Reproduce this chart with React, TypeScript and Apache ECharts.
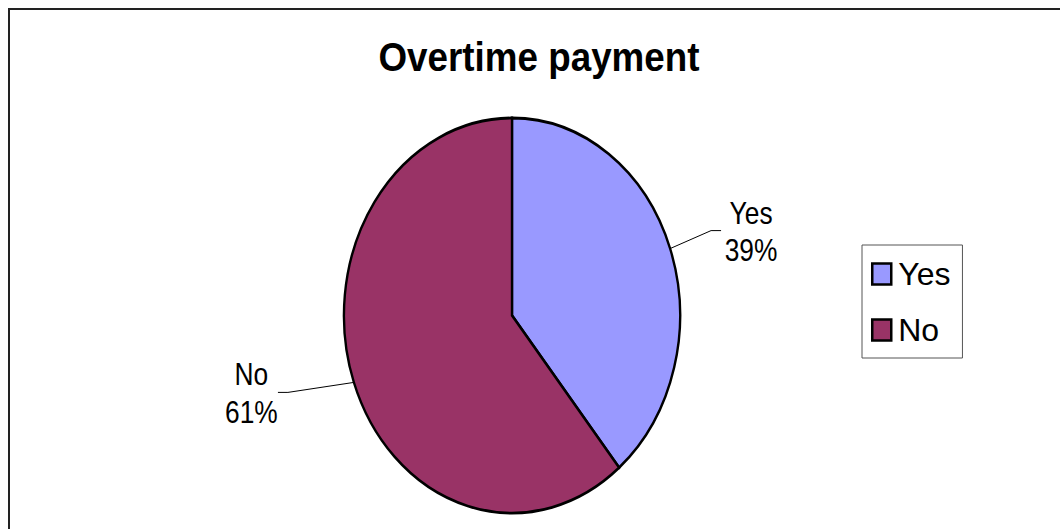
import React, { useEffect, useRef } from "react";
import * as echarts from "echarts";

const TITLE = "Overtime payment";
const categories = ["Yes", "No"];
const values = [39, 61];
const colors = ["#9999FF", "#993366"];

// layout (styling only)
const CX = 512;
const CY = 315.5;
const RX = 168;
const RY = 197.5;
const LEADER = [
  { dx: 41, dy: -18, hx: 10, tx: 40 },
  { dx: -66, dy: 10, hx: -10, tx: -36.5 },
];
const FONT = '"Liberation Sans", Arial, Helvetica, sans-serif';

export default function App() {
  const ref = useRef<HTMLDivElement>(null);

  useEffect(() => {
    document.body.style.margin = "0";
    if (!ref.current) return;
    const chart = echarts.init(ref.current, undefined, { renderer: "svg" });
    const total = values.reduce((a, b) => a + b, 0);
    let acc = 0;
    const series = categories.map((name, i) => {
      const start = acc;
      acc += values[i];
      return {
        type: "custom",
        name,
        coordinateSystem: "none",
        itemStyle: { color: colors[i] },
        data: [[values[i], start, total]],
        renderItem: (params: any, api: any) => {
          const v = api.value(0);
          const s = api.value(1);
          const t = api.value(2);
          const idx = params.seriesIndex;
          const a0 = (s / t) * Math.PI * 2 - Math.PI / 2;
          const a1 = ((s + v) / t) * Math.PI * 2 - Math.PI / 2;
          const mid = (a0 + a1) / 2;
          const ex = CX + RX * Math.cos(mid);
          const ey = CY + RY * Math.sin(mid);
          const L = LEADER[idx];
          const bx = ex + L.dx;
          const by = ey + L.dy;
          const hx = bx + L.hx;
          const pct = Math.round((v / t) * 100) + "%";
          return {
            type: "group",
            children: [
              {
                type: "sector",
                x: CX,
                y: CY,
                scaleX: RX / RY,
                shape: { cx: 0, cy: 0, r0: 0, r: RY, startAngle: a0, endAngle: a1, clockwise: true },
                style: { fill: colors[idx], stroke: "#000", lineWidth: 2.8, strokeNoScale: true },
              },
              {
                type: "polyline",
                shape: { points: [[ex, ey], [bx, by], [hx, by]] },
                style: { stroke: "#000", lineWidth: 1, fill: null },
              },
              {
                type: "text",
                x: bx + L.tx,
                y: by + 1,
                scaleX: 0.85,
                style: {
                  text: categories[idx] + "\n" + pct,
                  x: 0,
                  y: 0,
                  align: "center",
                  verticalAlign: "middle",
                  fontSize: 31,
                  fontFamily: FONT,
                  lineHeight: 37.5,
                  fill: "#000",
                },
              },
            ],
          };
        },
      };
    });

    chart.setOption({
      animation: false,
      backgroundColor: "#ffffff",
      graphic: [
        {
          type: "rect",
          shape: { x: 9, y: 9, width: 1200, height: 800 },
          style: { fill: "none", stroke: "#222", lineWidth: 2 },
          silent: true,
        },
        {
          type: "text",
          x: 539,
          y: 57,
          scaleX: 0.92,
          style: {
            text: TITLE,
            x: 0,
            y: 0,
            align: "center",
            verticalAlign: "middle",
            fontSize: 40,
            fontWeight: "bold",
            fontFamily: FONT,
            fill: "#000",
          },
        },
      ],
      legend: {
        data: categories,
        orient: "vertical",
        left: 862,
        top: 245,
        padding: [13, 12, 12, 9],
        itemWidth: 19,
        itemHeight: 21,
        itemGap: 24,
        icon: "rect",
        selectedMode: false,
        borderColor: "#555",
        borderWidth: 1,
        itemStyle: { borderColor: "#000", borderWidth: 2.5 },
        textStyle: { fontSize: 32, fontFamily: FONT, color: "#000", lineHeight: 30, padding: [0, 0, 0, 2] },
      },
      series,
    } as any);
    return () => chart.dispose();
  }, []);

  return <div ref={ref} style={{ width: 1060, height: 529 }} />;
}
